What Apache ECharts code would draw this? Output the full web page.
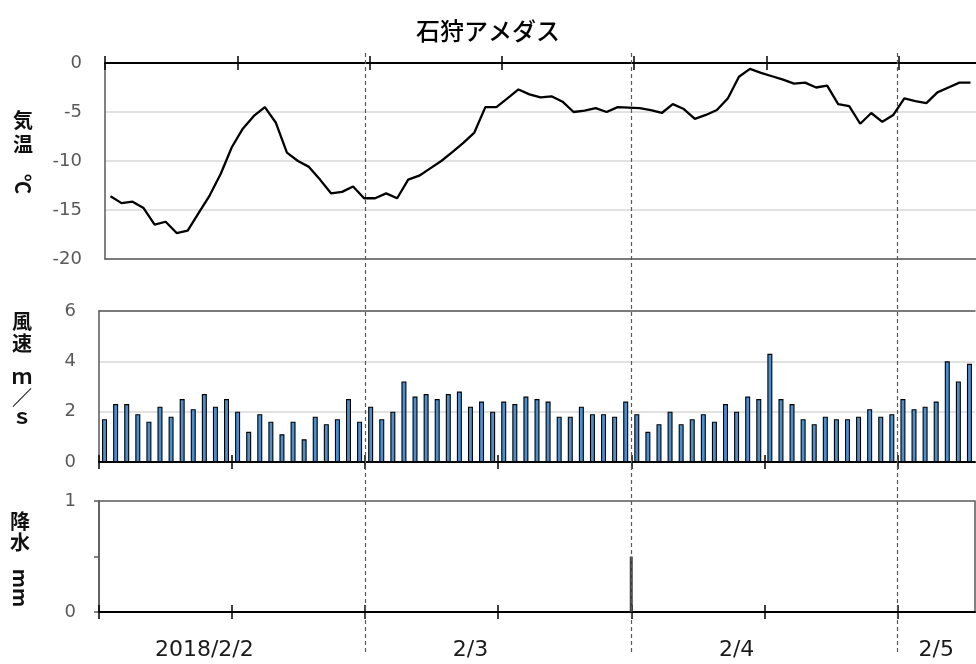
<!DOCTYPE html>
<html>
<head>
<meta charset="utf-8">
<script src="https://cdn.jsdelivr.net/npm/echarts@6/dist/echarts.min.js"></script>
<style>
html,body{margin:0;padding:0;background:#fff;}
#chart{width:976px;height:664px;}
</style>
</head>
<body>
<div id="chart"></div>
<script>
// ---- data (hourly, 2018/2/2 01:00 onward) ----
const chartTitle = '石狩アメダス';
const temperature = [
  -13.6, -14.3, -14.15, -14.8, -16.5, -16.2, -17.35, -17.1, -15.3, -13.5,
  -11.3, -8.6, -6.7, -5.4, -4.5, -6.1, -9.15, -10.0, -10.6, -11.9,
  -13.3, -13.15, -12.6, -13.8, -13.8, -13.3, -13.8, -11.9, -11.5, -10.75,
  -10.0, -9.1, -8.15, -7.1, -4.5, -4.5, -3.6, -2.7, -3.2, -3.5,
  -3.4, -3.95, -5.0, -4.85, -4.6, -5.0, -4.5, -4.55, -4.6, -4.8,
  -5.1, -4.2, -4.7, -5.7, -5.3, -4.8, -3.6, -1.4, -0.6, -1.0,
  -1.35, -1.7, -2.1, -2.0, -2.5, -2.3, -4.2, -4.4, -6.2, -5.1,
  -6.0, -5.3, -3.6, -3.9, -4.1, -3.0, -2.5, -2.0, -2.0
];
const windSpeed = [
  1.7, 2.3, 2.3, 1.9, 1.6, 2.2, 1.8, 2.5, 2.1, 2.7,
  2.2, 2.5, 2.0, 1.2, 1.9, 1.6, 1.1, 1.6, 0.9, 1.8,
  1.5, 1.7, 2.5, 1.6, 2.2, 1.7, 2.0, 3.2, 2.6, 2.7,
  2.5, 2.7, 2.8, 2.2, 2.4, 2.0, 2.4, 2.3, 2.6, 2.5,
  2.4, 1.8, 1.8, 2.2, 1.9, 1.9, 1.8, 2.4, 1.9, 1.2,
  1.5, 2.0, 1.5, 1.7, 1.9, 1.6, 2.3, 2.0, 2.6, 2.5,
  4.3, 2.5, 2.3, 1.7, 1.5, 1.8, 1.7, 1.7, 1.8, 2.1,
  1.8, 1.9, 2.5, 2.1, 2.2, 2.4, 4.0, 3.2, 3.9
];
const precipitation = [
  0, 0, 0, 0, 0, 0, 0, 0, 0, 0,
  0, 0, 0, 0, 0, 0, 0, 0, 0, 0,
  0, 0, 0, 0, 0, 0, 0, 0, 0, 0,
  0, 0, 0, 0, 0, 0, 0, 0, 0, 0,
  0, 0, 0, 0, 0, 0, 0, 0.5, 0, 0,
  0, 0, 0, 0, 0, 0, 0, 0, 0, 0,
  0, 0, 0, 0, 0, 0, 0, 0, 0, 0,
  0, 0, 0, 0, 0, 0, 0, 0, 0
];
const tickHours = [0, 12, 24, 36, 48, 60, 72];
const dayBoundaryHours = [24, 48, 72];
const dayLabels = ['2018/2/2', '2/3', '2/4', '2/5'];
const dayLabelHours = [9.5, 33.5, 57.5, 75.5];
const tempTicks = [0, -5, -10, -15, -20];
const windTicks = [0, 2, 4, 6];
const precipTickLabels = [0, 1];

// ---- chart ----
const HOURS = 79;
const GRAY = '#595959';
const LIGHT = '#d9d9d9';
const NUM_FONT = 'DejaVu Sans';
const JP_FONT = 'Noto Sans CJK JP';

function xAxisBase(gridIndex) {
  return {
    type: 'value', gridIndex: gridIndex, min: 0, max: HOURS,
    splitLine: {show: false}, axisLabel: {show: false},
    axisTick: {show: false}, axisLine: {show: false}
  };
}
function crossTicks(gridIndex, position) {
  const outside = xAxisBase(gridIndex);
  outside.position = position;
  outside.axisLine = {show: true, onZero: true, lineStyle: {color: '#000', width: 2}};
  outside.axisTick = {show: true, inside: false, length: 7, customValues: tickHours,
    lineStyle: {color: '#000', width: 1.5}};
  const inside = xAxisBase(gridIndex);
  inside.position = position;
  inside.axisTick = {show: true, inside: true, length: 7, customValues: tickHours,
    lineStyle: {color: '#000', width: 1.5}};
  return [outside, inside];
}
function borderAxis(gridIndex, position) {
  const a = xAxisBase(gridIndex);
  a.position = position;
  a.axisLine = {show: true, onZero: false, lineStyle: {color: GRAY, width: 1.5}};
  return a;
}

const xTemp = crossTicks(0, 'top');
const xWind = crossTicks(1, 'bottom');
const xPrec = crossTicks(2, 'bottom');
xPrec[0].axisLabel = {
  show: true, customValues: dayLabelHours, margin: 27,
  fontFamily: NUM_FONT, fontSize: 22, color: '#1a1a1a',
  formatter: function (v) {
    const k = dayLabelHours.indexOf(v);
    return k >= 0 ? dayLabels[k] : '';
  }
};
const xOverlay = xAxisBase(3);

const yLabelStyle = {fontFamily: NUM_FONT, fontSize: 18, color: GRAY, margin: 23};

function nameText(ch, x, y, rot) {
  const el = {type: 'text', x: x, y: y,
    style: {text: ch, fontFamily: JP_FONT, fontSize: 20, fontWeight: 'bold', fill: '#111',
      align: 'center', verticalAlign: 'middle'}};
  if (rot) el.rotation = rot;
  return el;
}

const option = {
  animation: false,
  backgroundColor: '#fff',
  title: {
    text: chartTitle, left: 'center', top: 14,
    textStyle: {fontFamily: JP_FONT, fontSize: 24, fontWeight: 500, color: '#000'}
  },
  grid: [
    {left: 105, top: 63, width: 872, height: 196},
    {left: 99, top: 311, width: 876, height: 151},
    {left: 99, top: 501, width: 876, height: 111, show: true, borderColor: GRAY, borderWidth: 1.5},
    {left: 99, top: 50, width: 876, height: 602}
  ],
  xAxis: [
    xTemp[0], xTemp[1], borderAxis(0, 'bottom'),
    xWind[0], xWind[1], borderAxis(1, 'top'),
    xPrec[0], xPrec[1],
    xOverlay
  ],
  yAxis: [
    {
      type: 'value', gridIndex: 0, min: -20, max: 0, interval: 5,
      axisLine: {show: true, lineStyle: {color: GRAY, width: 1.5}},
      axisTick: {show: false},
      axisLabel: Object.assign({customValues: tempTicks}, yLabelStyle),
      splitLine: {show: true, lineStyle: {color: LIGHT, width: 1.5}}
    },
    {
      type: 'value', gridIndex: 1, min: 0, max: 6, interval: 2,
      axisLine: {show: true, lineStyle: {color: GRAY, width: 1.5}},
      axisTick: {show: false},
      axisLabel: Object.assign({customValues: windTicks}, yLabelStyle),
      splitLine: {show: true, lineStyle: {color: LIGHT, width: 1.5}}
    },
    {
      type: 'value', gridIndex: 2, min: 0, max: 1, interval: 0.5,
      axisLine: {show: true, lineStyle: {color: GRAY, width: 1.5}},
      axisTick: {show: true, length: 5, lineStyle: {color: GRAY, width: 1.5}},
      axisLabel: Object.assign({customValues: precipTickLabels}, yLabelStyle),
      splitLine: {show: false}
    },
    {
      type: 'value', gridIndex: 3, min: 0, max: 1, show: false
    }
  ],
  series: [
    {
      type: 'line', name: '気温', xAxisIndex: 0, yAxisIndex: 0,
      data: temperature.map(function (v, i) { return [i + 0.5, v]; }),
      symbol: 'none', lineStyle: {color: '#000', width: 2.3}, z: 5
    },
    {
      type: 'bar', name: '風速', xAxisIndex: 3, yAxisIndex: 1,
      data: windSpeed.map(function (v, i) { return [i + 0.5, v]; }),
      barWidth: 5,
      itemStyle: {color: '#4a8fd0', borderColor: '#000', borderWidth: 1.1}, z: 4
    },
    {
      type: 'bar', name: '降水', xAxisIndex: 6, yAxisIndex: 2,
      data: precipitation.map(function (v, i) { return [i + 1, v]; }),
      barWidth: 3,
      itemStyle: {color: '#404040'}, z: 4
    },
    {
      type: 'line', xAxisIndex: 8, yAxisIndex: 3, data: [[0, 0]],
      symbol: 'none', lineStyle: {width: 0}, silent: true, z: 3,
      markLine: {
        silent: true, symbol: ['none', 'none'], animation: false,
        label: {show: false},
        lineStyle: {color: GRAY, type: [4, 3], width: 1.2},
        data: dayBoundaryHours.map(function (h) { return {xAxis: h}; })
      }
    }
  ],
  graphic: [
    nameText('気', 23, 120), nameText('温', 23, 144), nameText('℃', 23, 184, -Math.PI / 2),
    nameText('風', 22, 321), nameText('速', 22, 343),
    nameText('ｍ', 22, 376), nameText('／', 22, 397), nameText('ｓ', 22, 416),
    nameText('降', 20, 521), nameText('水', 20, 542), nameText('mm', 21, 588, -Math.PI / 2)
  ]
};

const chart = echarts.init(document.getElementById('chart'), null, {renderer: 'canvas'});
chart.setOption(option);
</script>
</body>
</html>
